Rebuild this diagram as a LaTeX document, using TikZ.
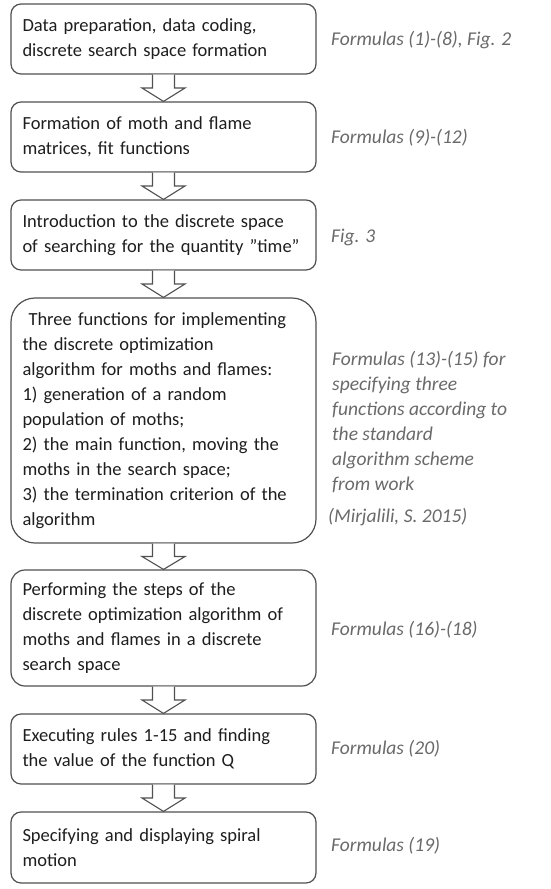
\documentclass[tikz,border=0pt]{standalone}
\usepackage{fontspec}
\setmainfont{Carlito}
\usetikzlibrary{calc}
\definecolor{edge}{HTML}{505050}
\definecolor{txt}{HTML}{1E1E1E}
\definecolor{lab}{HTML}{6A6A6A}
\hyphenpenalty=10000
\exhyphenpenalty=10000
\tikzset{
  box/.style={draw=edge, line width=1.2pt, rounded corners=10pt, fill=white,
    minimum width=305pt, text width=282pt, align=left, inner xsep=0pt, inner ysep=0pt,
    text=txt, font=\fontsize{18.5}{25}\selectfont},
  lbl/.style={anchor=west, text=lab, align=left, inner sep=0pt,
    font=\fontsize{19.5}{25}\selectfont\itshape},
  arr/.style={draw=edge, line width=1.1pt, fill=white, line join=miter}
}
\newcommand{\blockarrow}[2]{%
  \draw[arr] ($(#1.south)+(-11,0)$) -- ($(#1.south)!.5!(#2.north)+(-11,0)$)
    -- ++(-10.5,0) -- (#2.north) -- ($(#1.south)!.5!(#2.north)+(21.5,0)$)
    -- ++(-10.5,0) -- ($(#1.south)+(11,0)$);}
\begin{document}
\begin{tikzpicture}[x=1pt,y=-1pt]
\useasboundingbox[fill=white] (0,0) rectangle (550,889);
\node[box, minimum height=70pt] (b1) at (163.5,39) {Data preparation, data coding,\\discrete search space formation};
\node[box, minimum height=70pt] (b2) at (163.5,137) {Formation of moth and flame\\matrices, fit functions};
\node[box, minimum height=70pt] (b3) at (163.5,235) {Introduction to the discrete space\\of searching for the quantity \symbol{34}time\symbol{34}};
\node[box, minimum height=245pt, rounded corners=24pt] (b4) at (163.5,420.5) {\hspace*{6pt}Three functions for implementing\\the discrete optimization\\algorithm for moths and flames:\\1) generation of a random\\population of moths;\\2) the main function, moving the\\moths in the search space;\\3) the termination criterion of the\\algorithm};
\node[box, minimum height=116pt, rounded corners=14pt] (b5) at (163.5,628) {Performing the steps of the\\discrete optimization algorithm of\\moths and flames in a discrete\\search space};
\node[box, minimum height=70pt] (b6) at (163.5,749) {Executing rules 1-15 and finding\\the value of the function Q};
\node[box, minimum height=71pt] (b7) at (163.5,847.5) {Specifying and displaying spiral\\motion};
\blockarrow{b1}{b2}
\blockarrow{b2}{b3}
\blockarrow{b3}{b4}
\blockarrow{b4}{b5}
\blockarrow{b5}{b6}
\blockarrow{b6}{b7}
\node[lbl] (l1) at (331,40) {Formulas (1)-(8), Fig. 2};
\node[lbl] (l2) at (331,138) {Formulas (9)-(12)};
\node[lbl] (l3) at (331,237) {Fig. 3};
\node[lbl] (l4) at (332,422.5) {Formulas (13)-(15) for\\specifying three\\functions according to\\the standard\\algorithm scheme\\from work};
\node[lbl] (l4b) at (328,517) {(Mirjalili, S. 2015)};
\node[lbl] (l5) at (331,630) {Formulas (16)-(18)};
\node[lbl] (l6) at (331,749) {Formulas (20)};
\node[lbl] (l7) at (331,846) {Formulas (19)};
\end{tikzpicture}
\end{document}
